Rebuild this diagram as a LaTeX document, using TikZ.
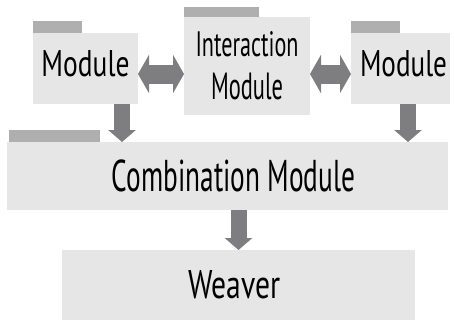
\documentclass[tikz,border=0pt]{standalone}
\usepackage{fontspec}
\setmainfont{PT Sans}
\usetikzlibrary{arrows.meta}
\definecolor{boxgray}{HTML}{E6E6E6}
\definecolor{tabgray}{HTML}{AFAFAF}
\definecolor{arrgray}{HTML}{7E7E80}
\newcommand{\fitword}[3]{\resizebox{#1pt}{#2pt}{#3}}

\begin{document}
\begin{tikzpicture}[x=1pt,y=-1pt,
	box/.style={fill=boxgray, inner sep=0pt, outer sep=0pt, anchor=north west},
	tab/.style={fill=tabgray},
	downarr/.style={draw=arrgray, line width=16pt, -{Triangle[width=27pt,length=12pt]}},
	sidearr/.style={draw=arrgray, line width=19pt, {Triangle[width=38pt,length=11pt]}-{Triangle[width=38pt,length=11pt]}}]
	\useasboundingbox (0,0) rectangle (454,322);
	
	\node[box, minimum width=105pt, minimum height=71pt, text depth=11pt] (modleft) at (33,33) {\fitword{88}{26}{Module}};
	\node[box, minimum width=126pt, minimum height=98pt, align=center, font=\fontsize{10}{43.4}\selectfont] (interact) at (184,17) {\fitword{103}{25}{Interaction}\\\fitword{72}{26.5}{Module}};
	\node[box, minimum width=99pt, minimum height=71pt, text depth=11pt] (modright) at (351,33) {\hspace*{6pt}\fitword{87}{26}{Module}};
	\node[box, minimum width=441pt, minimum height=68pt] (comb) at (7,142) {\hspace*{12pt}\fitword{243}{31.7}{Combination Module}};
	\node[box, minimum width=353pt, minimum height=70pt] (weaver) at (62,250) {\fitword{92}{28}{Weaver}\hspace*{8pt}};
	
	% tabs
	\fill[tab] (modleft.north west) rectangle ++(49,-12);
	\fill[tab] (interact.north west) rectangle ++(75,-10);
	\fill[tab] (modright.north west) rectangle ++(49,-12);
	\fill[tab] ([xshift=2pt]comb.north west) rectangle ++(91,-12);
	
	% arrows
	\draw[sidearr] ([yshift=-5.5pt]modleft.east) -- ([yshift=-5.5pt]modleft.east -| interact.west);
	\draw[sidearr] ([yshift=-5.5pt]modright.west -| interact.east) -- ([yshift=-5.5pt]modright.west);
	\draw[downarr] ([xshift=-16pt]modleft.south east) -- ([xshift=-16pt]modleft.south east |- comb.north);
	\draw[downarr] ([xshift=-42pt]modright.south east) -- ([xshift=-42pt]modright.south east |- comb.north);
	\draw[downarr] (weaver.north |- comb.south) -- (weaver.north);
\end{tikzpicture}
\end{document}
